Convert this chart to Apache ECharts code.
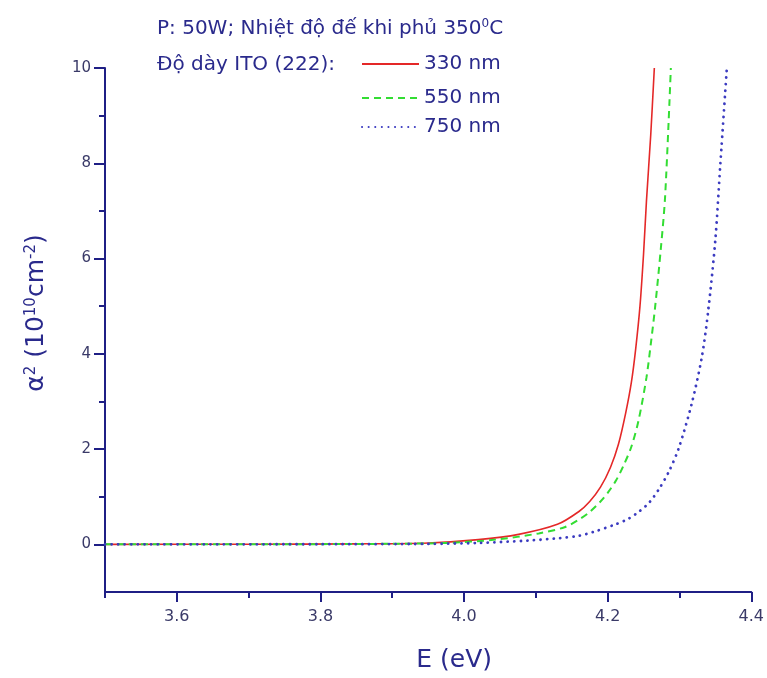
<!DOCTYPE html>
<html>
<head>
<meta charset="utf-8">
<script src="https://cdn.jsdelivr.net/npm/echarts@6/dist/echarts.min.js"></script>
<style>
    html, body { margin: 0; padding: 0; background: #fff; }
    #chart { width: 767px; height: 678px; }
</style>
</head>
<body>
<div id="chart"></div>
<script>
// photon energy E (eV) and alpha^2 (10^10 cm^-2)
var e330 = [3.50, 3.70, 3.85, 3.95, 4.02, 4.076, 4.13, 4.16, 4.175, 4.19, 4.204, 4.215, 4.225, 4.233, 4.239, 4.245, 4.25, 4.254, 4.26, 4.265]
var a330 = [0, 0.003, 0.01, 0.03, 0.10, 0.21, 0.42, 0.69, 0.9, 1.2, 1.62, 2.1, 2.75, 3.4, 4.1, 5.0, 6.1, 7.2, 8.6, 10]

var e550 = [3.50, 3.75, 3.90, 3.975, 4.044, 4.104, 4.14, 4.16, 4.175, 4.19, 4.201, 4.212, 4.222, 4.233, 4.243, 4.254, 4.26, 4.266, 4.274, 4.28, 4.288]
var a550 = [0, 0.003, 0.012, 0.03, 0.10, 0.23, 0.36, 0.52, 0.68, 0.9, 1.10, 1.35, 1.65, 2.05, 2.6, 3.5, 4.2, 4.97, 6.2, 7.3, 10]

var e750 = [3.50, 3.80, 3.95, 4.02, 4.09, 4.132, 4.16, 4.18, 4.211, 4.228, 4.243, 4.258, 4.271, 4.285, 4.299, 4.317, 4.331, 4.340, 4.350, 4.357, 4.366]
var a750 = [0, 0.003, 0.01, 0.03, 0.08, 0.13, 0.18, 0.26, 0.42, 0.53, 0.68, 0.88, 1.15, 1.52, 2.02, 2.95, 3.92, 4.9, 6.4, 8.0, 10]

var xMajor = [3.6, 3.8, 4.0, 4.2, 4.4]
var xMinor = [3.5, 3.7, 3.9, 4.1, 4.3]
var yMajor = [0, 2, 4, 6, 8, 10]
var yMinor = [1, 3, 5, 7, 9]

function pairs(xs, ys) {
    return xs.map(function (x, i) { return [x, ys[i]] })
}

var axisColor = '#1f1f85'
var labelColor = '#3a3a68'
var textColor = '#2a2a8c'
var font = 'DejaVu Sans'

var chart = echarts.init(document.getElementById('chart'))

var option = {
    backgroundColor: '#fff',
    animation: false,
    title: [
        {
            text: 'P: 50W; Nhiệt độ đế khi phủ 350{sup|0}C',
            left: 152,
            top: 13,
            textStyle: {
                color: textColor, fontFamily: font, fontSize: 20, fontWeight: 'normal',
                rich: { sup: { fontSize: 12, fontFamily: font, color: textColor, verticalAlign: 'top', padding: [0, 0, 10, 0] } }
            }
        },
        {
            text: 'Độ dày ITO (222):',
            left: 152,
            top: 50,
            textStyle: { color: textColor, fontFamily: font, fontSize: 20, fontWeight: 'normal' }
        }
    ],
    legend: ['330 nm', '550 nm', '750 nm'].map(function (name, i) {
        return {
            data: [name],
            left: 361,
            top: [54, 88, 117][i],
            padding: 0,
            itemWidth: 57,
            itemHeight: 14,
            itemStyle: { opacity: 0 },
            textStyle: { color: textColor, fontFamily: font, fontSize: 20 }
        }
    }),
    grid: {
        left: 105,
        right: 14,
        top: 68,
        bottom: 86
    },
    xAxis: [
        {
            type: 'value',
            min: 3.5,
            max: 4.4,
            position: 'bottom',
            name: 'E (eV)',
            nameLocation: 'middle',
            nameGap: 56,
            nameTextStyle: { color: textColor, fontFamily: font, fontSize: 25, padding: [0, 0, 0, 52] },
            axisLine: { show: true, onZero: false, lineStyle: { color: axisColor, width: 2 } },
            axisTick: { show: true, length: 10, customValues: xMajor, lineStyle: { color: axisColor, width: 2 } },
            axisLabel: {
                customValues: xMajor, margin: 17, color: labelColor, fontFamily: font, fontSize: 16,
                formatter: function (v) { return v.toFixed(1) }
            },
            splitLine: { show: false }
        },
        {
            type: 'value',
            min: 3.5,
            max: 4.4,
            position: 'bottom',
            axisLine: { show: false, onZero: false },
            axisTick: { show: true, length: 6, customValues: xMinor, lineStyle: { color: axisColor, width: 2 } },
            axisLabel: { show: false },
            splitLine: { show: false }
        }
    ],
    yAxis: [
        {
            type: 'value',
            min: -1,
            max: 10,
            position: 'left',
            name: '{a|α}{s|2}{a| (10}{s|10}{a|cm}{s|-2}{a|)}',
            nameLocation: 'middle',
            nameGap: 56,
            nameRotate: 90,
            nameTextStyle: {
                color: textColor,
                padding: [0, 0, 0, 34],
                rich: {
                    a: { fontFamily: font, fontSize: 25, color: textColor, verticalAlign: 'bottom' },
                    s: { fontFamily: font, fontSize: 15, color: textColor, verticalAlign: 'top' }
                }
            },
            axisLine: { show: true, onZero: false, lineStyle: { color: axisColor, width: 2 } },
            axisTick: { show: true, length: 11, customValues: yMajor, lineStyle: { color: axisColor, width: 2 } },
            axisLabel: { customValues: yMajor, margin: 14, color: labelColor, fontFamily: font, fontSize: 15 },
            splitLine: { show: false }
        },
        {
            type: 'value',
            min: -1,
            max: 10,
            position: 'left',
            axisLine: { show: false, onZero: false },
            axisTick: { show: true, length: 6, customValues: yMinor, lineStyle: { color: axisColor, width: 2 } },
            axisLabel: { show: false },
            splitLine: { show: false }
        }
    ],
    series: [
        {
            name: '330 nm',
            type: 'line',
            data: pairs(e330, a330),
            symbol: 'none',
            smooth: 0.3,
            lineStyle: { color: '#e42828', width: 1.6, type: 'solid' },
            itemStyle: { color: '#e42828' }
        },
        {
            name: '550 nm',
            type: 'line',
            data: pairs(e550, a550),
            symbol: 'none',
            smooth: 0.3,
            lineStyle: { color: '#33dd33', width: 2, type: [7, 5] },
            itemStyle: { color: '#33dd33' }
        },
        {
            name: '750 nm',
            type: 'line',
            data: pairs(e750, a750),
            symbol: 'none',
            smooth: 0.3,
            lineStyle: { color: '#3b3bc0', width: 2.8, type: [0.1, 6.5], cap: 'round' },
            itemStyle: { color: '#3b3bc0' }
        }
    ]
}

chart.setOption(option)
</script>
</body>
</html>
